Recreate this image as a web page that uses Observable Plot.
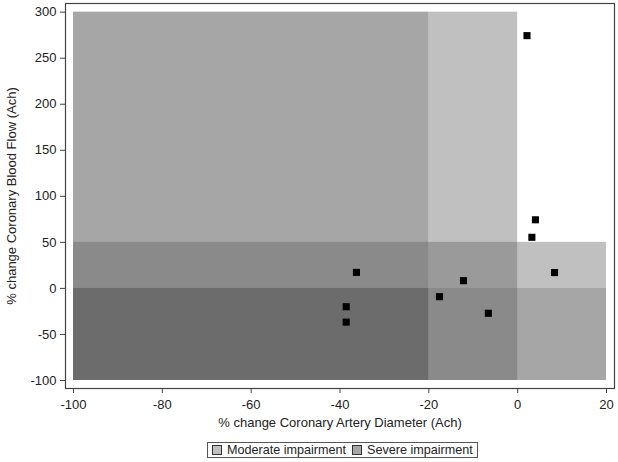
<!DOCTYPE html>
<html>
<head>
<meta charset="utf-8">
<script src="https://cdn.jsdelivr.net/npm/d3@7"></script>
<script src="https://cdn.jsdelivr.net/npm/@observablehq/plot@0.6"></script>
<style>
  html, body { margin: 0; padding: 0; background: #fff; }
  body { width: 618px; height: 462px; overflow: hidden; position: relative; font-family: "Liberation Sans", Arial, sans-serif; }
  #legend { position: absolute; left: 207px; top: 441px; }
  #legend .box { display: inline-flex; align-items: center; border: 1px solid #555; padding: 0 4px; font-size: 12.6px; color: #222; height: 16px; box-sizing: border-box; }
  #legend .sw { width: 8px; height: 8px; border: 1px solid #333; display: inline-block; margin-right: 5px; }
  #legend .item { display: inline-flex; align-items: center; margin-right: 6px; }
  #legend .item:last-child { margin-right: 0; }
</style>
</head>
<body>
<div id="chart"></div>
<div id="legend"></div>
<script>
// Data
const diameterChange = [2.1, 4.0, 3.2, 8.3, -36.3, -12.2, -17.6, -6.6, -38.6, -38.6];
const flowChange     = [274.5, 74.5, 55.5, 17.2, 17.4, 8.4, -9.0, -27.0, -19.9, -36.6];

const regionNames = ["Severe impairment", "Severe impairment", "Moderate impairment", "Moderate impairment"];
const regionX1 = [-100, -100, -20, -100];
const regionX2 = [-20, 20, 0, 20];
const regionY1 = [-100, -100, -100, 0];
const regionY2 = [300, 0, 300, 50];

const xTicks = [-100, -80, -60, -40, -20, 0, 20];
const yTicks = [-100, -50, 0, 50, 100, 150, 200, 250, 300];
const xLabel = "% change Coronary Artery Diameter (Ach)";
const yLabel = "% change Coronary Blood Flow (Ach)";
const legendNames = ["Moderate impairment", "Severe impairment"];
const legendColors = ["#c0c0c0", "#a6a6a6"];

const points = diameterChange.map((x, i) => ({x, y: flowChange[i]}));
const regions = regionNames.map((name, i) => ({name, x1: regionX1[i], x2: regionX2[i], y1: regionY1[i], y2: regionY2[i]}));

const chart = Plot.plot({
  width: 618,
  height: 432,
  marginLeft: 65,
  marginRight: 4,
  marginTop: 3,
  marginBottom: 44,
  style: { fontFamily: "'Liberation Sans', Arial, sans-serif", fontSize: "13px", color: "#222", background: "white" },
  x: { domain: [-101.8, 21.8], ticks: xTicks },
  y: { domain: [-108.7, 309.4], ticks: yTicks },
  marks: [
    Plot.rect(regions.filter(d => d.name === "Severe impairment"), {x1: "x1", x2: "x2", y1: "y1", y2: "y2", fill: "black", fillOpacity: 0.35}),
    Plot.rect(regions.filter(d => d.name === "Moderate impairment"), {x1: "x1", x2: "x2", y1: "y1", y2: "y2", fill: "#5f5f5f", fillOpacity: 0.393}),
    Plot.dot(points, {x: "x", y: "y", symbol: "square", r: 4, fill: "black", stroke: "none"}),
    Plot.frame({stroke: "#444", strokeWidth: 1.2}),
    Plot.axisX({ticks: xTicks, tickSize: 5, tickPadding: 6, label: null, stroke: "#444", fontSize: 13, tickFormat: d => String(d)}),
    Plot.axisY({ticks: yTicks, tickSize: 5, tickPadding: 4, label: null, stroke: "#444", fontSize: 13, tickFormat: d => String(d)}),
    Plot.text([xLabel], {text: d => d, frameAnchor: "bottom", dy: 38, fontSize: 13, fill: "#222", textAnchor: "middle"}),
    Plot.text([yLabel], {text: d => d, frameAnchor: "left", dx: -54, rotate: -90, fontSize: 13, fill: "#222", textAnchor: "middle"})
  ]
});
document.getElementById("chart").appendChild(chart);

const box = document.createElement("div");
box.className = "box";
legendNames.forEach((name, i) => {
  const item = document.createElement("span");
  item.className = "item";
  const sw = document.createElement("span");
  sw.className = "sw";
  sw.style.background = legendColors[i];
  item.appendChild(sw);
  item.appendChild(document.createTextNode(name));
  box.appendChild(item);
});
document.getElementById("legend").appendChild(box);
</script>
</body>
</html>
